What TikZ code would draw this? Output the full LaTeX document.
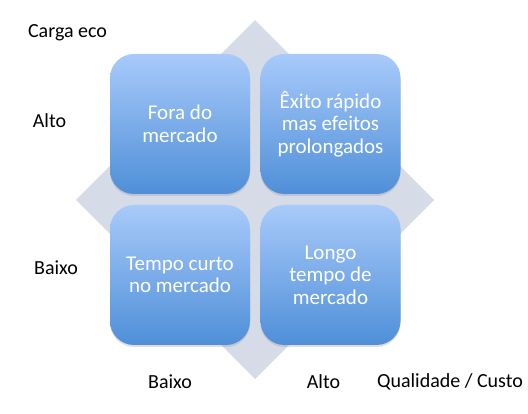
\documentclass[tikz,border=0pt]{standalone}
\usepackage{fontspec}
\setmainfont{Carlito}
\usetikzlibrary{shadows}
\definecolor{diamondc}{HTML}{D5DBE7}
\definecolor{boxtop}{HTML}{A8CAFA}
\definecolor{boxbot}{HTML}{4F8FD8}
\begin{document}
\begin{tikzpicture}[x=1pt,y=-1pt,
  qbox/.style={minimum width=140pt,minimum height=140pt,rounded corners=24pt,
    top color=boxtop,bottom color=boxbot,text=white,align=center,inner sep=0pt,
    font=\fontsize{21}{22.5}\selectfont,
    drop shadow={opacity=0.25,shadow xshift=0pt,shadow yshift=-2pt}},
  lbl/.style={text=black,inner sep=0pt,font=\fontsize{20}{22}\selectfont}]
\useasboundingbox (0,0) rectangle (528,414);
\fill[diamondc] (255,20) -- (434,200) -- (255,379) -- (76,200) -- cycle;
\node[qbox] (tl) at (180,124) {Fora do\\mercado};
\node[qbox] (tr) at (330.5,124) {Êxito rápido\\mas efeitos\\prolongados};
\node[qbox] (bl) at (180,275) {Tempo curto\\no mercado};
\node[qbox] (br) at (330.5,275) {Longo\\tempo de\\mercado};
\node[lbl] (carga) at (67.5,33) {Carga eco};
\node[lbl] (altoy) at (49.5,121) {Alto};
\node[lbl] (baixoy) at (56,268) {Baixo};
\node[lbl] (baixox) at (170,382) {Baixo};
\node[lbl] (altox) at (323.5,382) {Alto};
\node[lbl] (qual) at (450,382) {Qualidade / Custo};
\end{tikzpicture}
\end{document}
